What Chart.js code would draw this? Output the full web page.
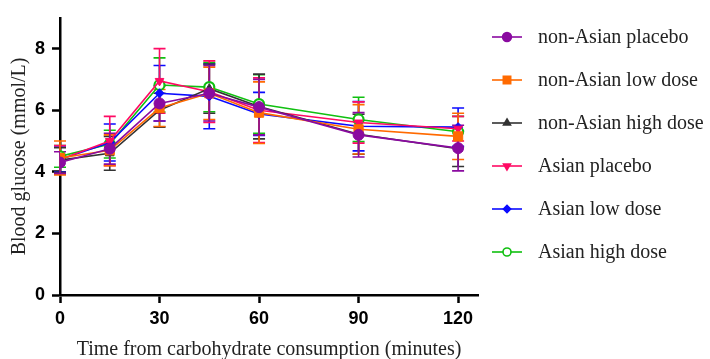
<!DOCTYPE html>
<html>
<head>
<meta charset="utf-8">
<script src="https://cdn.jsdelivr.net/npm/chart.js@4.4.1/dist/chart.umd.min.js"></script>
<style>
  html, body { margin: 0; padding: 0; background: #fff; }
  #wrap { width: 710px; height: 359px; }
</style>
</head>
<body>
<div id="wrap"><canvas id="glucoseChart" width="710" height="359"></canvas></div>
<script>
// time points (minutes)
const times = [0, 15, 30, 45, 60, 90, 120];
const xTicks = [0, 30, 60, 90, 120];
const yTicks = [0, 2, 4, 6, 8];

// group means (mmol/L)
const nonAsianPlacebo  = [4.30, 4.75, 6.22, 6.55, 6.10, 5.20, 4.77];
const nonAsianLowDose  = [4.45, 4.70, 6.07, 6.55, 5.92, 5.38, 5.15];
const nonAsianHighDose = [4.38, 4.60, 6.00, 6.70, 6.12, 5.22, 4.75];
const asianPlacebo     = [4.40, 5.00, 6.95, 6.60, 6.00, 5.60, 5.40];
const asianLowDose     = [4.40, 4.95, 6.55, 6.45, 5.88, 5.48, 5.45];
const asianHighDose    = [4.50, 4.90, 6.82, 6.75, 6.20, 5.70, 5.30];

// error bar half widths
const nonAsianPlaceboErr  = [0.35, 0.50, 0.57, 0.90, 0.90, 0.72, 0.74];
const nonAsianLowDoseErr  = [0.55, 0.50, 0.60, 0.85, 1.00, 0.80, 0.75];
const nonAsianHighDoseErr = [0.40, 0.55, 0.55, 0.80, 1.05, 0.65, 0.58];
const asianPlaceboErr     = [0.45, 0.80, 1.05, 1.00, 1.05, 0.67, 0.40];
const asianLowDoseErr     = [0.40, 0.60, 0.90, 1.05, 0.70, 0.80, 0.62];
const asianHighDoseErr    = [0.35, 0.45, 0.88, 0.80, 0.95, 0.72, 0.50];

const labels = ['non-Asian placebo', 'non-Asian low dose', 'non-Asian high dose',
                'Asian placebo', 'Asian low dose', 'Asian high dose'];

const serif = "'Liberation Serif', 'Times New Roman', serif";
const sans = "'Liberation Sans', Arial, sans-serif";

function series(label, means, errs, color, style) {
  return Object.assign({
    label: label,
    data: times.map((t, i) => ({ x: t, y: means[i] })),
    errors: errs,
    borderColor: color,
    backgroundColor: color,
    pointBorderColor: color,
    pointBackgroundColor: color,
    borderWidth: 1.6,
    pointBorderWidth: 1,
    pointRadius: 5,
    pointHoverRadius: 5,
    fill: false,
    tension: 0
  }, style);
}

const datasets = [
  series(labels[0], nonAsianPlacebo, nonAsianPlaceboErr, '#8a0aa0', { pointStyle: 'circle', pointRadius: 5.5 }),
  series(labels[1], nonAsianLowDose, nonAsianLowDoseErr, '#ff6a00', { pointStyle: 'rect', pointRadius: 6.5 }),
  series(labels[2], nonAsianHighDose, nonAsianHighDoseErr, '#333333', { pointStyle: 'triangle', pointRadius: 5 }),
  series(labels[3], asianPlacebo, asianPlaceboErr, '#ff0a64', { pointStyle: 'triangle', pointRotation: 180, pointRadius: 5 }),
  series(labels[4], asianLowDose, asianLowDoseErr, '#0a0aff', { pointStyle: 'rectRot', pointRadius: 4.5 }),
  series(labels[5], asianHighDose, asianHighDoseErr, '#10c010', { pointStyle: 'circle', pointRadius: 5, pointBackgroundColor: '#ffffff', pointBorderWidth: 2.2 })
];

// vertical error bars with caps
const errorBars = {
  id: 'errorBars',
  beforeDatasetsDraw(chart) {
    const ctx = chart.ctx;
    const xs = chart.scales.x, ys = chart.scales.y;
    ctx.save();
    for (let d = chart.data.datasets.length - 1; d >= 0; d--) {
      const ds = chart.data.datasets[d];
      ctx.strokeStyle = ds.borderColor;
      ctx.lineWidth = 1.6;
      ds.data.forEach((p, i) => {
        const x = xs.getPixelForValue(p.x);
        const y1 = ys.getPixelForValue(p.y + ds.errors[i]);
        const y2 = ys.getPixelForValue(p.y - ds.errors[i]);
        ctx.beginPath();
        ctx.moveTo(x, y1); ctx.lineTo(x, y2);
        ctx.moveTo(x - 6, y1); ctx.lineTo(x + 6, y1);
        ctx.moveTo(x - 6, y2); ctx.lineTo(x + 6, y2);
        ctx.stroke();
      });
    }
    ctx.restore();
  }
};

// legend on the right: line with marker, then text
const sideLegend = {
  id: 'sideLegend',
  afterDraw(chart) {
    const ctx = chart.ctx;
    ctx.save();
    ctx.font = '20px ' + serif;
    ctx.textBaseline = 'middle';
    ctx.textAlign = 'left';
    chart.data.datasets.forEach((ds, i) => {
      const y = 37 + i * 43;
      ctx.strokeStyle = ds.borderColor;
      ctx.lineWidth = 1.6;
      ctx.beginPath();
      ctx.moveTo(492, y); ctx.lineTo(522, y);
      ctx.stroke();
      ctx.fillStyle = ds.pointBackgroundColor;
      ctx.strokeStyle = ds.pointBorderColor;
      Chart.helpers.drawPoint(ctx, {
        pointStyle: ds.pointStyle,
        rotation: ds.pointRotation || 0,
        radius: ds.pointRadius * 0.8,
        borderWidth: ds.pointBorderWidth
      }, 507, y);
      ctx.fillStyle = '#222';
      ctx.fillText(ds.label, 538, y + 1);
    });
    ctx.restore();
  }
};

new Chart(document.getElementById('glucoseChart'), {
  type: 'line',
  data: { datasets: datasets },
  options: {
    responsive: false,
    animation: false,
    layout: { padding: { top: 13, right: 232, left: 0, bottom: 0 } },
    plugins: {
      legend: { display: false },
      tooltip: { enabled: false }
    },
    scales: {
      x: {
        type: 'linear',
        min: 0,
        max: 126,
        afterBuildTicks: s => { s.ticks = xTicks.map(v => ({ value: v })); },
        ticks: { color: '#000', font: { family: sans, size: 18, weight: 'bold' }, padding: 5, maxRotation: 0 },
        grid: { drawOnChartArea: false, drawTicks: true, tickLength: 8, tickWidth: 2.5, tickColor: '#000' },
        border: { color: '#000', width: 2.5 },
        title: { display: true, text: 'Time from carbohydrate consumption (minutes)', color: '#222',
                 font: { family: serif, size: 20, lineHeight: 1 }, padding: { top: 14, bottom: -1 } },
        afterFit: s => { s.height = 64; }
      },
      y: {
        type: 'linear',
        min: 0,
        max: 9,
        afterBuildTicks: s => { s.ticks = yTicks.map(v => ({ value: v })); },
        ticks: { color: '#000', font: { family: sans, size: 18, weight: 'bold' }, padding: 7 },
        grid: { drawOnChartArea: false, drawTicks: true, tickLength: 8, tickWidth: 2.5, tickColor: '#000' },
        border: { color: '#000', width: 2.5 },
        title: { display: true, text: 'Blood glucose (mmol/L)', color: '#222',
                 font: { family: serif, size: 20 }, padding: { top: 8, bottom: 0 } },
        afterFit: s => { s.width = 60; }
      }
    }
  },
  plugins: [errorBars, sideLegend]
});
</script>
</body>
</html>
